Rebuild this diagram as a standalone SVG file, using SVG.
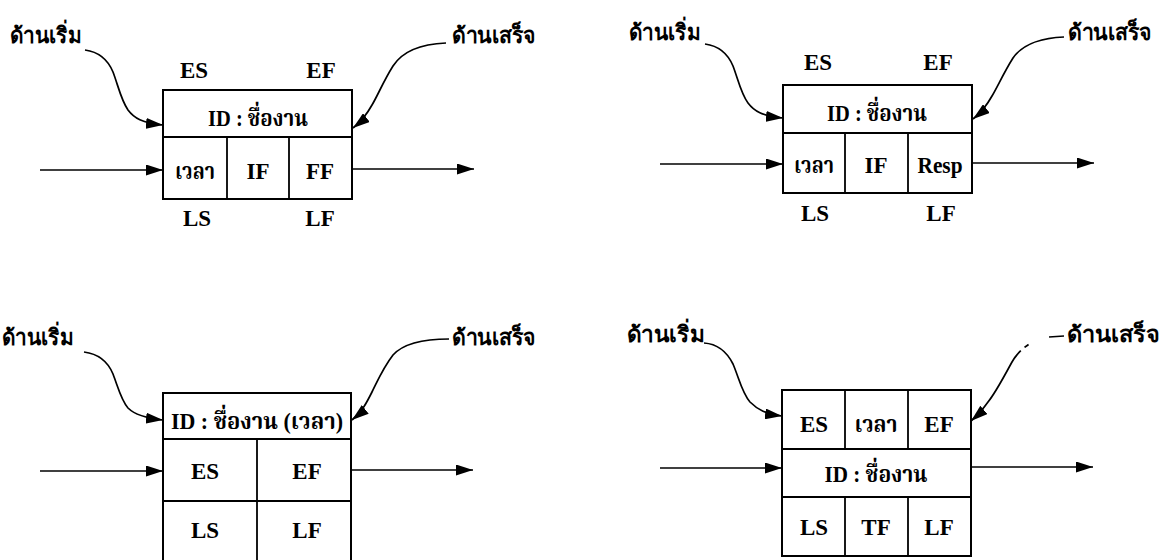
<svg xmlns="http://www.w3.org/2000/svg" width="1166" height="560" viewBox="0 0 1166 560">
  <style>
    .box { fill: #fff; stroke: #000; stroke-width: 2; }
    .div { stroke: #000; stroke-width: 1.8; fill: none; }
    .ln { stroke: #000; stroke-width: 1.7; fill: none; }
    .arr { marker-end: url(#head); }
    text { fill: #000; text-anchor: middle; }
    .lat { font-family: "Liberation Serif", "Noto Serif Thai", "Noto Sans CJK SC", serif; font-size: 23px; font-weight: bold; }
    .lbl { font-family: "Liberation Sans", "Noto Sans CJK SC", sans-serif; font-size: 22px; font-weight: bold; text-anchor: start; }
  </style>
  <defs>
    <marker id="head" markerUnits="userSpaceOnUse" markerWidth="18" markerHeight="11" refX="17" refY="5.5" orient="auto">
      <path d="M0,0 L17,5.5 L0,11 Z" fill="#000"/>
    </marker>
  </defs>

  <rect width="1166" height="560" fill="#fff"/>

  <!-- connectors: curved pointers and flow arrows -->
  <g id="connectors">
    <!-- panel 1 -->
    <path class="ln arr" d="M85,50 C100,52 108,60 113,72 C118,85 121,100 128,110 C134,118 142,123 163,125"/>
    <path class="ln arr" d="M446,43 C420,44 402,52 393,66 C383,82 378,95 372,105 C367,114 362,121 353,128"/>
    <line class="ln arr" x1="40" y1="170" x2="163" y2="170"/>
    <line class="ln arr" x1="352" y1="169" x2="474" y2="169"/>
    <!-- panel 2 -->
    <path class="ln arr" d="M705,44 C720,46 728,54 733,66 C738,79 741,94 748,103 C754,111 762,116 783,118"/>
    <path class="ln arr" d="M1064,37 C1040,38 1022,45 1013,58 C1003,74 998,86 992,96 C987,105 982,112 973,119"/>
    <line class="ln arr" x1="660" y1="164" x2="783" y2="164"/>
    <line class="ln arr" x1="972" y1="163" x2="1094" y2="163"/>
    <!-- panel 3 -->
    <path class="ln arr" d="M84,352 C100,354 108,362 113,374 C118,387 121,400 128,408 C134,414 144,418 163,420"/>
    <path class="ln arr" d="M449,339 C420,339 402,345 393,355 C383,368 378,380 372,392 C367,402 362,412 352,420"/>
    <line class="ln arr" x1="40" y1="471" x2="163" y2="471" stroke-width="1.3"/>
    <line class="ln arr" x1="351" y1="470" x2="473" y2="470"/>
    <!-- panel 4 -->
    <path class="ln arr" d="M704,343 C718,344 727,352 733,364 C739,378 742,393 750,402 C758,410 766,414 782,416"/>
    <path class="ln arr" d="M1064,336 L1049,337 C1035,338 1020,348 1012,362 C1002,380 996,392 988,402 C983,409 978,415 971,421" stroke-dasharray="15 22 5 5 400"/>
    <line class="ln arr" x1="660" y1="468" x2="782" y2="468"/>
    <line class="ln arr" x1="971" y1="467" x2="1093" y2="467"/>
  </g>

  <!-- panel 1: ID row over duration / IF / FF -->
  <g id="node1">
    <rect class="box" x="163" y="90" width="189" height="109"/>
    <line class="div" x1="163" y1="137" x2="352" y2="137"/>
    <line class="div" x1="227" y1="137" x2="227" y2="199"/>
    <line class="div" x1="289" y1="137" x2="289" y2="199"/>
    <text class="lat" x="258" y="126" textLength="100" lengthAdjust="spacingAndGlyphs">ID : ชื่องาน</text>
    <text class="lat" x="195" y="179" textLength="40" lengthAdjust="spacingAndGlyphs">เวลา</text>
    <text class="lat" x="258" y="179">IF</text>
    <text class="lat" x="320" y="179">FF</text>
    <text class="lat" x="194" y="78">ES</text>
    <text class="lat" x="321" y="78">EF</text>
    <text class="lat" x="197" y="226">LS</text>
    <text class="lat" x="320" y="226">LF</text>
    <text class="lbl" x="10" y="43" textLength="72" lengthAdjust="spacingAndGlyphs">ด้านเริ่ม</text>
    <text class="lbl" x="452" y="43" textLength="84" lengthAdjust="spacingAndGlyphs">ด้านเสร็จ</text>
  </g>

  <!-- panel 2: ID row over duration / IF / Resp -->
  <g id="node2">
    <rect class="box" x="783" y="85" width="189" height="108"/>
    <line class="div" x1="783" y1="133" x2="972" y2="133"/>
    <line class="div" x1="845" y1="133" x2="845" y2="193"/>
    <line class="div" x1="908" y1="133" x2="908" y2="193"/>
    <text class="lat" x="877" y="121" textLength="100" lengthAdjust="spacingAndGlyphs">ID : ชื่องาน</text>
    <text class="lat" x="814" y="173" textLength="40" lengthAdjust="spacingAndGlyphs">เวลา</text>
    <text class="lat" x="876" y="173">IF</text>
    <text class="lat" x="940" y="173" textLength="45" lengthAdjust="spacingAndGlyphs">Resp</text>
    <text class="lat" x="818" y="70">ES</text>
    <text class="lat" x="938" y="70">EF</text>
    <text class="lat" x="815" y="221">LS</text>
    <text class="lat" x="941" y="221">LF</text>
    <text class="lbl" x="629" y="40" textLength="72" lengthAdjust="spacingAndGlyphs">ด้านเริ่ม</text>
    <text class="lbl" x="1068" y="40" textLength="84" lengthAdjust="spacingAndGlyphs">ด้านเสร็จ</text>
  </g>

  <!-- panel 3: ID (duration) over ES/EF and LS/LF -->
  <g id="node3">
    <rect class="box" x="163" y="393" width="188" height="172"/>
    <line class="div" x1="163" y1="439" x2="351" y2="439"/>
    <line class="div" x1="163" y1="501" x2="351" y2="501"/>
    <line class="div" x1="257" y1="439" x2="257" y2="565"/>
    <text class="lat" x="257" y="429" textLength="172" lengthAdjust="spacingAndGlyphs">ID : ชื่องาน (เวลา)</text>
    <text class="lat" x="205" y="479">ES</text>
    <text class="lat" x="307" y="479">EF</text>
    <text class="lat" x="205" y="538">LS</text>
    <text class="lat" x="307" y="538">LF</text>
    <text class="lbl" x="2" y="345" textLength="72" lengthAdjust="spacingAndGlyphs">ด้านเริ่ม</text>
    <text class="lbl" x="452" y="345" textLength="84" lengthAdjust="spacingAndGlyphs">ด้านเสร็จ</text>
  </g>

  <!-- panel 4: ES / duration / EF, ID row, LS / TF / LF -->
  <g id="node4">
    <rect class="box" x="782" y="390" width="189" height="166"/>
    <line class="div" x1="782" y1="449" x2="971" y2="449"/>
    <line class="div" x1="782" y1="497" x2="971" y2="497"/>
    <line class="div" x1="845" y1="390" x2="845" y2="449"/>
    <line class="div" x1="908" y1="390" x2="908" y2="449"/>
    <line class="div" x1="845" y1="497" x2="845" y2="556"/>
    <line class="div" x1="908" y1="497" x2="908" y2="556"/>
    <text class="lat" x="814" y="432">ES</text>
    <text class="lat" x="876" y="432" textLength="43" lengthAdjust="spacingAndGlyphs">เวลา</text>
    <text class="lat" x="939" y="432">EF</text>
    <text class="lat" x="876" y="482" textLength="103" lengthAdjust="spacingAndGlyphs">ID : ชื่องาน</text>
    <text class="lat" x="814" y="535">LS</text>
    <text class="lat" x="876" y="535">TF</text>
    <text class="lat" x="939" y="535">LF</text>
    <text class="lbl" x="627" y="342" textLength="78" lengthAdjust="spacingAndGlyphs">ด้านเริ่ม</text>
    <text class="lbl" x="1067" y="342" textLength="93" lengthAdjust="spacingAndGlyphs">ด้านเสร็จ</text>
  </g>
</svg>
